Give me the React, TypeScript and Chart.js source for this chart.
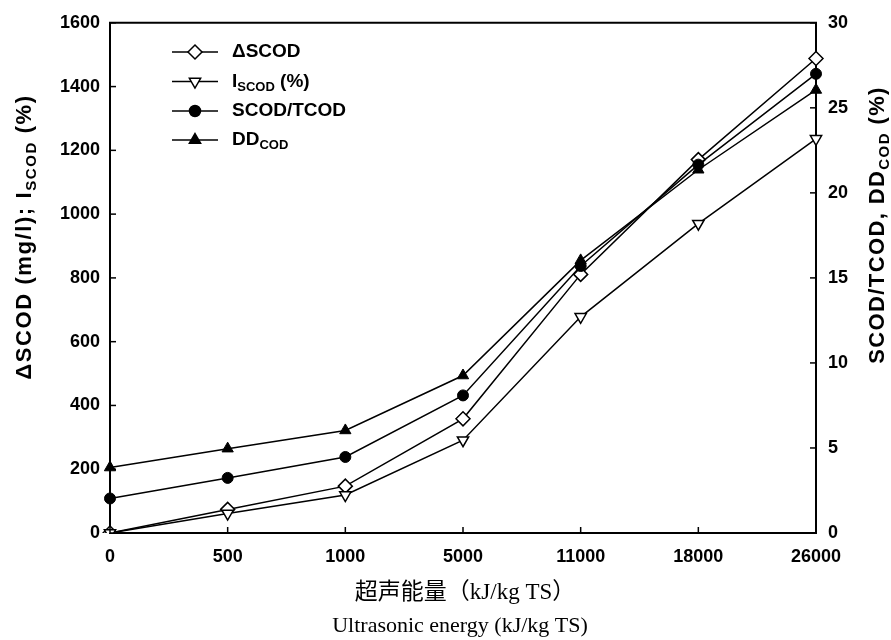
import React, { useEffect, useRef } from 'react';
import { Chart, registerables } from 'chart.js';
import { drawPoint } from 'chart.js/helpers';

Chart.register(...registerables);

// ---- data ----
const categories = ['0', '500', '1000', '5000', '11000', '18000', '26000'];
const deltaSCOD = [0, 74, 147, 358, 811, 1171, 1488]; // left axis (mg/l)
const iSCOD = [0, 61, 119, 291, 678, 970, 1236]; // left axis (%)
const scodTcod = [2.03, 3.24, 4.47, 8.09, 15.7, 21.66, 27.0]; // right axis (%)
const ddCOD = [3.85, 4.96, 6.03, 9.26, 16.03, 21.36, 26.05]; // right axis (%)

const leftMax = 1600;
const leftStep = 200;
const rightMax = 30;
const rightStep = 5;

type Part = { t: string; sub?: boolean };
const legendLabels: Part[][] = [
  [{ t: 'ΔSCOD' }],
  [{ t: 'I' }, { t: 'SCOD', sub: true }, { t: ' (%)' }],
  [{ t: 'SCOD/TCOD' }],
  [{ t: 'DD' }, { t: 'COD', sub: true }],
];
const leftTitle: Part[] = [
  { t: 'ΔSCOD (mg/l); I' },
  { t: 'SCOD', sub: true },
  { t: ' (%)' },
];
const rightTitle: Part[] = [
  { t: 'SCOD/TCOD, DD' },
  { t: 'COD', sub: true },
  { t: ' (%)' },
];
const xTitleZh = '超声能量（kJ/kg TS）';
const xTitleEn = 'Ultrasonic energy (kJ/kg TS)';

const SANS = '"Liberation Sans", Arial, sans-serif';
const SERIF = '"Liberation Serif", "Times New Roman", "Noto Sans CJK SC", serif';
const WEIGHT = 'bold';

function drawRich(
  ctx: CanvasRenderingContext2D,
  parts: Part[],
  x: number,
  y: number,
  size: number,
  align: 'left' | 'center',
  spacing = 0
) {
  const subSize = Math.round(size * 0.68);
  const mainFont = `${WEIGHT} ${size}px ${SANS}`;
  const subFont = `${WEIGHT} ${subSize}px ${SANS}`;
  (ctx as any).letterSpacing = `${spacing}px`;
  let total = 0;
  const widths = parts.map((p) => {
    ctx.font = p.sub ? subFont : mainFont;
    const w = ctx.measureText(p.t).width;
    total += w;
    return w;
  });
  let cx = align === 'center' ? x - total / 2 : x;
  ctx.textAlign = 'left';
  ctx.textBaseline = 'middle';
  parts.forEach((p, i) => {
    ctx.font = p.sub ? subFont : mainFont;
    ctx.fillText(p.t, cx, p.sub ? y + size * 0.3 : y);
    cx += widths[i];
  });
  (ctx as any).letterSpacing = '0px';
}

const decorPlugin = {
  id: 'decor',
  afterDraw(chart: any) {
    const ctx: CanvasRenderingContext2D = chart.ctx;
    const { left, right, top, bottom } = chart.chartArea;
    ctx.save();
    ctx.strokeStyle = '#000';
    ctx.fillStyle = '#000';
    // top border
    ctx.lineWidth = 2;
    ctx.beginPath();
    ctx.moveTo(left - 1, top);
    ctx.lineTo(right + 1, top);
    ctx.stroke();
    // inward ticks
    ctx.lineWidth = 1.5;
    const tl = 6;
    const xs = chart.scales.x;
    xs.ticks.forEach((_: any, i: number) => {
      const px = xs.getPixelForTick(i);
      ctx.beginPath();
      ctx.moveTo(px, bottom);
      ctx.lineTo(px, bottom - tl);
      ctx.stroke();
    });
    const ys = chart.scales.y;
    ys.ticks.forEach((_: any, i: number) => {
      const py = ys.getPixelForTick(i);
      ctx.beginPath();
      ctx.moveTo(left, py);
      ctx.lineTo(left + tl, py);
      ctx.stroke();
    });
    const y1 = chart.scales.y1;
    y1.ticks.forEach((_: any, i: number) => {
      const py = y1.getPixelForTick(i);
      ctx.beginPath();
      ctx.moveTo(right, py);
      ctx.lineTo(right - tl, py);
      ctx.stroke();
    });

    // legend
    const rows = [52, 81.5, 111, 140];
    chart.data.datasets.forEach((ds: any, i: number) => {
      const ry = rows[i];
      ctx.lineWidth = 1.5;
      ctx.strokeStyle = '#000';
      ctx.beginPath();
      ctx.moveTo(172, ry);
      ctx.lineTo(218, ry);
      ctx.stroke();
      ctx.fillStyle = ds.pointBackgroundColor;
      ctx.strokeStyle = '#000';
      ctx.lineWidth = 1.5;
      drawPoint(
        ctx,
        {
          pointStyle: ds.pointStyle,
          rotation: ds.pointRotation || 0,
          radius: ds.pointRadius,
          borderWidth: 1.5,
        } as any,
        195,
        ry
      );
      ctx.fillStyle = '#000';
      drawRich(ctx, legendLabels[i], 232, ry, 19, 'left');
    });

    // left axis title
    ctx.save();
    ctx.translate(25, 237);
    ctx.rotate(-Math.PI / 2);
    drawRich(ctx, leftTitle, 0, 0, 22, 'center', 1.6);
    ctx.restore();

    // right axis title
    ctx.save();
    ctx.translate(878, 225);
    ctx.rotate(-Math.PI / 2);
    drawRich(ctx, rightTitle, 0, 0, 22, 'center', 1.4);
    ctx.restore();

    // bottom titles
    ctx.textAlign = 'center';
    ctx.textBaseline = 'middle';
    ctx.font = `23px ${SERIF}`;
    ctx.fillText(xTitleZh, 465, 593);
    ctx.font = `22px ${SERIF}`;
    ctx.fillText(xTitleEn, 460, 626);
    ctx.restore();
  },
};

export default function App() {
  const ref = useRef<HTMLCanvasElement | null>(null);

  useEffect(() => {
    document.body.style.margin = '0';
    const canvas = ref.current;
    if (!canvas) return;
    const tickFont = { family: SANS, size: 18, weight: WEIGHT };
    const plain = (v: any) => String(v);
    const chart = new Chart(canvas, {
      type: 'line',
      data: {
        labels: categories,
        datasets: [
          {
            label: 'ΔSCOD',
            data: deltaSCOD,
            yAxisID: 'y',
            borderColor: '#000',
            borderWidth: 1.5,
            pointStyle: 'rectRot',
            pointRadius: 7,
            pointBackgroundColor: '#fff',
            pointBorderColor: '#000',
            pointBorderWidth: 1.5,
            order: 4,
          },
          {
            label: 'ISCOD (%)',
            data: iSCOD,
            yAxisID: 'y',
            borderColor: '#000',
            borderWidth: 1.5,
            pointStyle: 'triangle',
            pointRotation: 180,
            pointRadius: 6.5,
            pointBackgroundColor: '#fff',
            pointBorderColor: '#000',
            pointBorderWidth: 1.5,
            order: 3,
          },
          {
            label: 'SCOD/TCOD',
            data: scodTcod,
            yAxisID: 'y1',
            borderColor: '#000',
            borderWidth: 1.5,
            pointStyle: 'circle',
            pointRadius: 5.5,
            pointBackgroundColor: '#000',
            pointBorderColor: '#000',
            pointBorderWidth: 1,
            order: 2,
          },
          {
            label: 'DDCOD',
            data: ddCOD,
            yAxisID: 'y1',
            borderColor: '#000',
            borderWidth: 1.5,
            pointStyle: 'triangle',
            pointRadius: 6.5,
            pointBackgroundColor: '#000',
            pointBorderColor: '#000',
            pointBorderWidth: 1,
            order: 1,
          },
        ] as any,
      },
      options: {
        responsive: false,
        animation: false,
        events: [],
        layout: { padding: { top: 21, left: 0, right: 0, bottom: 0 } },
        plugins: {
          legend: { display: false },
          tooltip: { enabled: false },
          title: { display: false },
        },
        scales: {
          x: {
            type: 'category',
            offset: false,
            grid: { display: false, drawTicks: false },
            border: { display: true, color: '#000', width: 2 },
            ticks: {
              color: '#000',
              font: tickFont,
              padding: 13,
              maxRotation: 0,
              autoSkip: false,
            },
            afterFit: (s: any) => {
              s.height = 107;
            },
          },
          y: {
            position: 'left',
            min: 0,
            max: leftMax,
            grid: { display: false, drawTicks: false },
            border: { display: true, color: '#000', width: 2 },
            ticks: { stepSize: leftStep, color: '#000', font: tickFont, padding: 10, callback: plain },
            afterFit: (s: any) => {
              s.width = 110;
            },
          },
          y1: {
            position: 'right',
            min: 0,
            max: rightMax,
            grid: { display: false, drawTicks: false },
            border: { display: true, color: '#000', width: 2 },
            ticks: { stepSize: rightStep, color: '#000', font: tickFont, padding: 12, callback: plain },
            afterFit: (s: any) => {
              s.width = 75;
            },
          },
        },
      } as any,
      plugins: [decorPlugin],
    });
    return () => chart.destroy();
  }, []);

  return (
    <div style={{ width: 891, height: 640 }}>
      <canvas ref={ref} width={891} height={640} style={{ display: 'block' }} />
    </div>
  );
}
